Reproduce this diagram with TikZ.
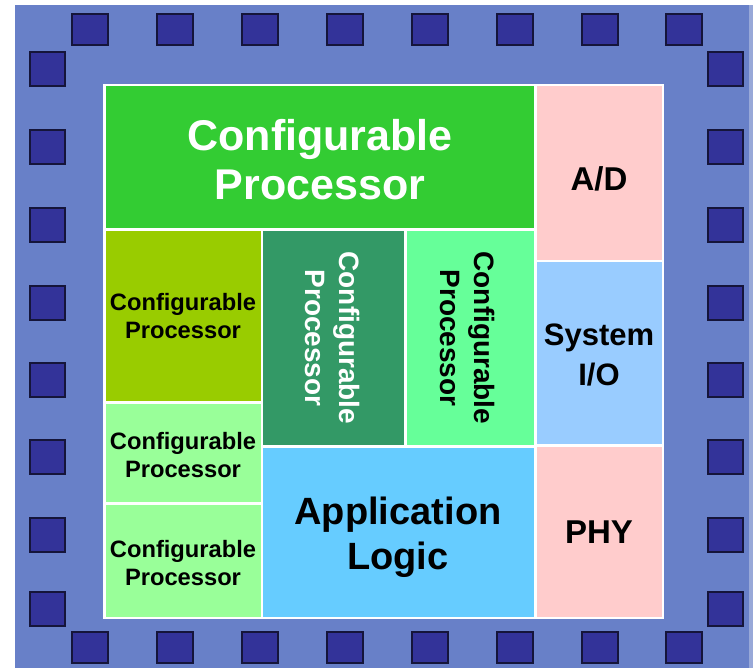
\documentclass[tikz,border=0pt]{standalone}
\usepackage{fontspec}
\setmainfont{Liberation Sans}
\definecolor{chipblue}{HTML}{6880C8}
\definecolor{chipedge}{HTML}{98A8D8}
\definecolor{padblue}{HTML}{333399}
\definecolor{padedge}{HTML}{15153A}
\definecolor{cpgreen}{HTML}{33CC33}
\definecolor{cpolive}{HTML}{99CC00}
\definecolor{cplight}{HTML}{99FF99}
\definecolor{cpdark}{HTML}{339966}
\definecolor{cpmint}{HTML}{66FF99}
\definecolor{applogic}{HTML}{66CCFF}
\definecolor{adpink}{HTML}{FFCCCC}
\definecolor{sysio}{HTML}{99CCFF}
\newcommand\setfs[2]{\fontsize{#1}{#2}\selectfont}
\begin{document}
\begin{tikzpicture}[x=1pt,y=-1pt,
  block/.style={draw=white, line width=2.8pt, fill=#1},
  lbl/.style={font=\bfseries, align=center, inner sep=0pt},
  pad/.style={fill=padblue, draw=padedge, line width=1.4pt}]
\useasboundingbox (0,0) rectangle (753,668);
\fill[white] (0,0) rectangle (753,668);
% chip package
\fill[chipblue] (15,5) rectangle (753,668);
\fill[chipedge] (749,5) rectangle (753,668);
% bond pads
\foreach \x in {72,157,242,327,412,497,582,666} {
  \draw[pad] (\x,14) rectangle ++(36,31);
  \draw[pad] (\x,632) rectangle ++(36,31);
}
\foreach \y in {52,130,208,286,363,440,518,592} {
  \draw[pad] (30,\y) rectangle ++(35,34);
  \draw[pad] (708,\y) rectangle ++(35,34);
}
% die blocks
\draw[block=cpgreen]  (104.5,85)    rectangle (535.5,229.5);
\draw[block=adpink]   (535.5,85)    rectangle (663,261);
\draw[block=sysio]    (535.5,261)   rectangle (663,445.5);
\draw[block=adpink]   (535.5,445.5) rectangle (663,618);
\draw[block=cpolive]  (104.5,229.5) rectangle (262,402.5);
\draw[block=cplight]  (104.5,402.5) rectangle (262,503.5);
\draw[block=cplight]  (104.5,503.5) rectangle (262,618);
\draw[block=cpdark]   (262,229.5)   rectangle (405.5,446.5);
\draw[block=cpmint]   (405.5,229.5) rectangle (535.5,446.5);
\draw[block=applogic] (262,446.5)   rectangle (535.5,618);
% labels
\node[lbl, white, font=\bfseries\setfs{43}{49}] (cpmain) at (320,160) {Configurable\\Processor};
\node[lbl, font=\bfseries\setfs{33}{38}] (ad) at (599,179) {A/D};
\node[lbl, font=\bfseries\setfs{31}{40}] (io) at (599,355) {System\\I/O};
\node[lbl, font=\bfseries\setfs{33}{38}] (phy) at (599,532) {PHY};
\node[lbl, font=\bfseries\setfs{23.7}{28}] (cpa) at (183,316) {Configurable\\Processor};
\node[lbl, font=\bfseries\setfs{23.7}{28}] (cpb) at (183,455) {Configurable\\Processor};
\node[lbl, font=\bfseries\setfs{23.7}{28}] (cpc) at (183,563) {Configurable\\Processor};
\node[lbl, white, rotate=-90, font=\bfseries\setfs{28}{34}] (cpd) at (333,338) {Configurable\\Processor};
\node[lbl, rotate=-90, font=\bfseries\setfs{28}{34}] (cpe) at (468,338) {Configurable\\Processor};
\node[lbl, font=\bfseries\setfs{38}{45}] (app) at (398,537) {Application\\Logic};
\end{tikzpicture}
\end{document}
